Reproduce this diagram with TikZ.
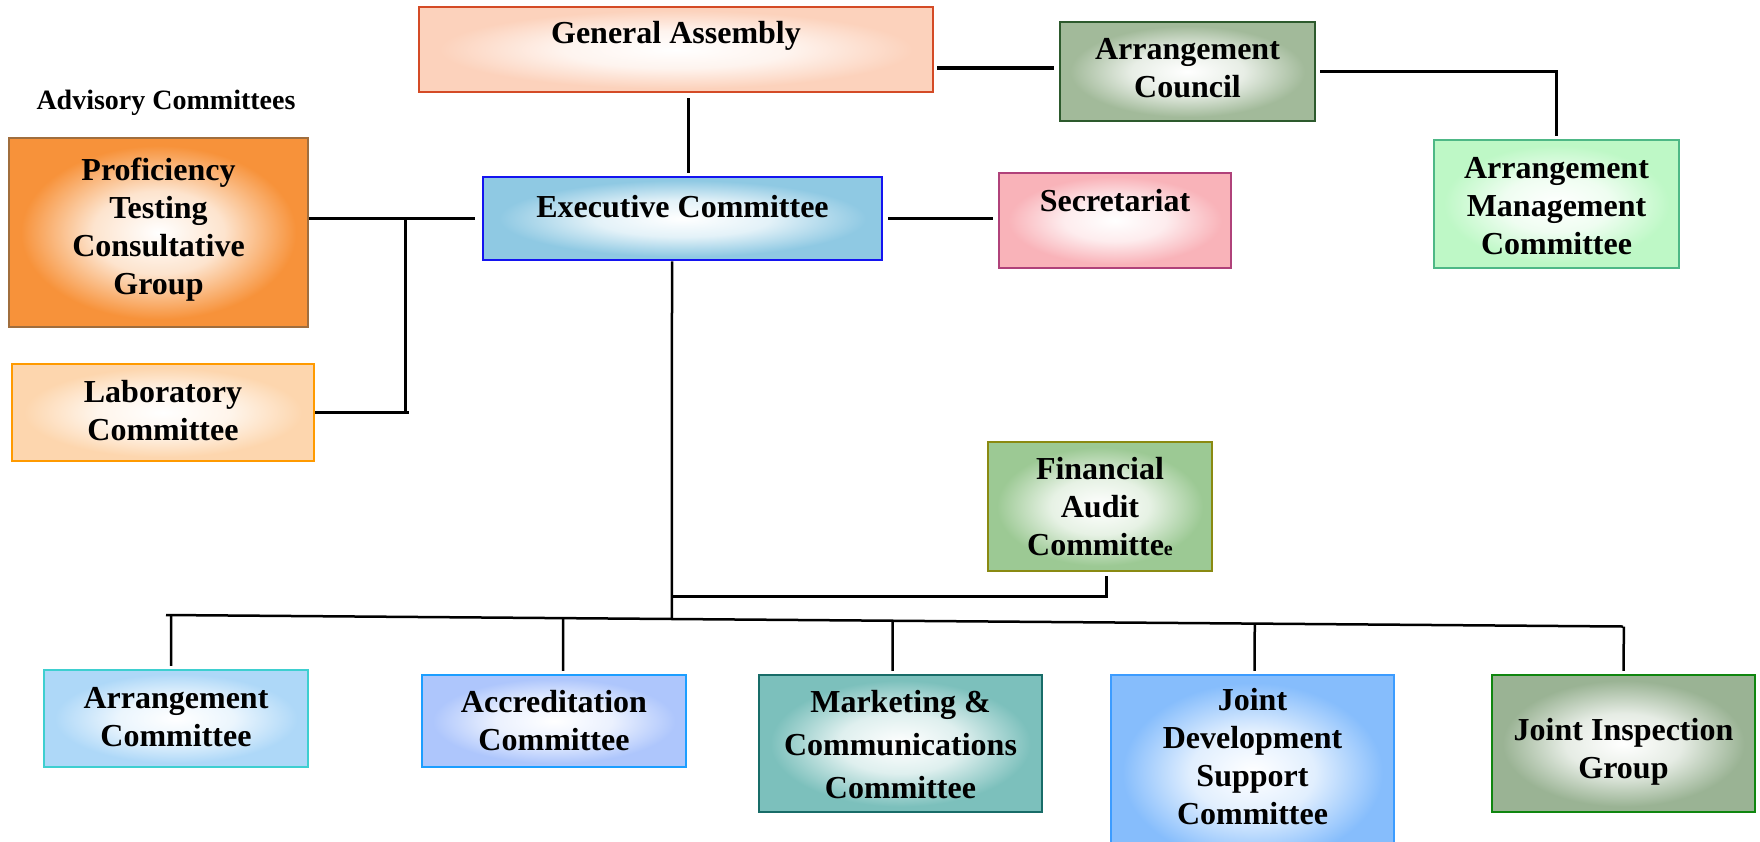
\documentclass[tikz,border=0pt]{standalone}
\usepackage{fontspec}
\setmainfont{Liberation Serif}
\usetikzlibrary{calc}
\definecolor{gaF}{HTML}{FCD2BC}\definecolor{gaD}{HTML}{D44B26}
\definecolor{arcF}{HTML}{A2BA9A}\definecolor{arcD}{HTML}{2D5A2D}
\definecolor{ptF}{HTML}{F7923A}\definecolor{ptD}{HTML}{A06E3E}
\definecolor{labF}{HTML}{FDD6AE}\definecolor{labD}{HTML}{FF9A00}
\definecolor{exF}{HTML}{8FC9E3}\definecolor{exD}{HTML}{1414F0}
\definecolor{secF}{HTML}{F9B3B9}\definecolor{secD}{HTML}{B0427A}
\definecolor{amcF}{HTML}{BEF8C6}\definecolor{amcD}{HTML}{4EB886}
\definecolor{facF}{HTML}{9CC994}\definecolor{facD}{HTML}{8A8A12}
\definecolor{arF}{HTML}{AED8F8}\definecolor{arD}{HTML}{3ECFD0}
\definecolor{accF}{HTML}{AEC6FC}\definecolor{accD}{HTML}{1C9EFF}
\definecolor{mktF}{HTML}{7CC0BC}\definecolor{mktD}{HTML}{186C68}
\definecolor{jdF}{HTML}{86BDFC}\definecolor{jdD}{HTML}{3C9CFF}
\definecolor{jigF}{HTML}{9AB394}\definecolor{jigD}{HTML}{0F860F}
\colorlet{boxcol}{white}
\pgfdeclareradialshading[boxcol]{boxshade}{\pgfpoint{0bp}{0bp}}{color(0bp)=(white); color(11bp)=(boxcol!25!white); color(23bp)=(boxcol); color(50bp)=(boxcol)}
\newcommand\mainfnt{\fontsize{32pt}{38pt}\selectfont\bfseries}
\newcommand\ml[1]{\begin{tabular}{@{}c@{}}#1\end{tabular}}
\tikzset{
  orgbox/.style n args={4}{rectangle, draw=#2, line width=2.5pt,
    /utils/exec={\colorlet{boxcol}{#1}}, shade, shading=boxshade,
    minimum width=#3, minimum height=#4, inner sep=0pt, font=\mainfnt},
  tsh/.style 2 args={text height=#1, text depth=#2},
  conn/.style={line width=2.5pt, black},
}
\begin{document}
\begin{tikzpicture}[x=1pt,y=-1pt]
\useasboundingbox (0,0) rectangle (1760,841);
\clip (0,0) rectangle (1760,841);
\fill[white] (0,0) rectangle (1760,841);

\node[orgbox={gaF}{gaD}{514pt}{85pt}, tsh={23pt}{36pt}] (ga) at (676,49.5) {General Assembly};
\node[orgbox={arcF}{arcD}{255pt}{99pt}, tsh={12pt}{0pt}] (arc) at (1187.5,71.5) {\ml{Arrangement\\Council}};
\node[font=\fontsize{28pt}{34pt}\selectfont\bfseries] (adv) at (166,103) {Advisory Committees};
\node[orgbox={ptF}{ptD}{299pt}{189pt}, tsh={8pt}{0pt}] (ptcg) at (158.5,232.5) {\ml{Proficiency\\Testing\\Consultative\\Group}};
\node[orgbox={labF}{labD}{302pt}{97pt}, tsh={16pt}{0pt}] (lab) at (163,412.5) {\ml{Laboratory\\Committee}};
\node[orgbox={exF}{exD}{399pt}{83pt}, tsh={23pt}{26pt}] (exec) at (682.5,218.5) {Executive Committee};
\node[orgbox={secF}{secD}{232pt}{95pt}, tsh={23pt}{41pt}] (sec) at (1115,220.5) {Secretariat};
\node[orgbox={amcF}{amcD}{245pt}{128pt}, tsh={23pt}{0pt}] (amc) at (1556.5,204) {\ml{Arrangement\\Management\\Committee}};
\node[orgbox={facF}{facD}{224pt}{129pt}, tsh={20pt}{0pt}] (fac) at (1100,506.5) {\ml{Financial\\Audit\\Committe{\fontsize{20pt}{20pt}\selectfont e}}};
\node[orgbox={arF}{arD}{264pt}{97pt}, tsh={16pt}{0pt}] (arc2) at (176,718.5) {\ml{Arrangement\\Committee}};
\node[orgbox={accF}{accD}{264pt}{92pt}, tsh={18pt}{0pt}] (acc) at (554,721) {\ml{Accreditation\\Committee}};
\node[orgbox={mktF}{mktD}{283pt}{137pt}, tsh={22pt}{0pt}] (mkt) at (900.5,743.5) {\ml{Marketing \&\\[5pt]Communications\\[5pt]Committee}};
\node[orgbox={jdF}{jdD}{283pt}{195pt}, tsh={0pt}{12pt}] (jdsc) at (1252.5,772.5) {\ml{Joint\\Development\\Support\\Committee}};
\node[orgbox={jigF}{jigD}{263pt}{137pt}, tsh={30pt}{0pt}] (jig) at (1623.5,743.5) {\ml{Joint Inspection\\Group}};

% top connectors
\coordinate (gx) at ([xshift=12.5pt]ga.south);
\draw[conn, shorten <=5pt, shorten >=3pt] (gx) -- (gx |- exec.north);
\coordinate (aw) at ([yshift=3.5pt]arc.west);
\draw[conn, line width=3.5pt, shorten <=3pt, shorten >=5pt] (ga.east |- aw) -- (aw);
\draw[conn, shorten <=4pt, shorten >=3pt] (arc.east) -| (amc.north);
\draw[conn, shorten <=5pt, shorten >=5pt] (exec.east) -- (exec.east -| sec.west);

% advisory connectors
\coordinate (pe) at (ptcg.east |- exec.west);
\draw[conn, shorten >=7pt] (pe) -- (exec.west);
\coordinate (vj) at ($(pe)+(96,0)$);
\draw[conn] (vj) -- (vj |- lab.east);
\draw[conn, line width=3.2pt] (lab.east) -- ([xshift=4pt]vj |- lab.east);

% bus
\coordinate (busL) at (166,615);
\coordinate (busR) at (1623,626.5);
\draw[conn] (busL) -- (busR);
\coordinate (ex) at ([xshift=-10.5pt]exec.south);
\coordinate (exd) at (ex |- busR);
\draw[conn] (ex) -- (intersection of busL--busR and ex--exd);
\coordinate (fb) at ([xshift=6.5pt]fac.south);
\coordinate (fh) at ($(fb)+(0,24)$);
\draw[conn, shorten <=4pt] (fb) -- (fh) -- (ex |- fh);
\foreach \n/\s in {arc2/-5,acc/9,mkt/-8,jdsc/2,jig/0}{
  \coordinate (t\n) at ([xshift=\s pt]\n.north);
  \coordinate (u\n) at (t\n |- busL);
  \draw[conn, shorten >=3pt] (intersection of busL--busR and t\n--u\n) -- (t\n);
}
\end{tikzpicture}
\end{document}
